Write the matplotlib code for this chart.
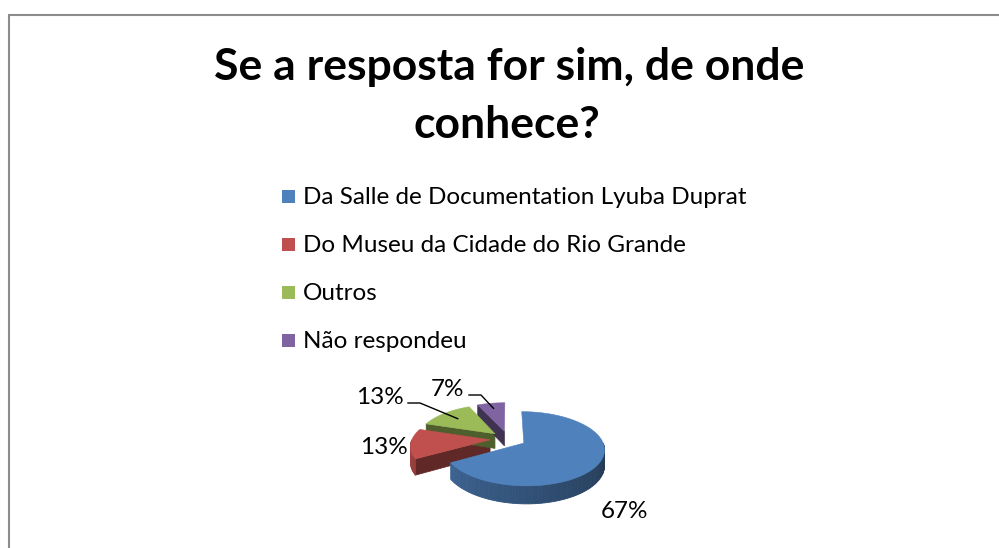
import numpy as np
import matplotlib
matplotlib.use("Agg")
import matplotlib.pyplot as plt
from matplotlib.patches import Polygon, Rectangle
from matplotlib.colors import to_rgb

# data
categories = ["Da Salle de Documentation Lyuba Duprat",
              "Do Museu da Cidade do Rio Grande",
              "Outros",
              "Não respondeu"]
counts = [10, 2, 2, 1]
title = "Se a resposta for sim, de onde\nconhece?"

colors = ["#4F81BD", "#C0504D", "#9BBB59", "#8064A2"]
FONT = "Lato"

W, H = 999, 548
fig = plt.figure(figsize=(W / 100, H / 100), dpi=100)
ax = fig.add_axes([0, 0, 1, 1])
ax.set_xlim(0, W)
ax.set_ylim(H, 0)
ax.axis("off")
renderer = fig.canvas.get_renderer()


def fit_size(text, width, weight="normal"):
    t = ax.text(0, 0, text, fontsize=10, family=FONT, weight=weight)
    w = t.get_window_extent(renderer).width
    t.remove()
    return 10 * width / w


# chart border (only top and left edges are visible in the crop)
ax.plot([8, W], [14.5, 14.5], color="#8C8C8C", lw=1.5, solid_capstyle="butt")
ax.plot([8.5, 8.5], [14, H], color="#8C8C8C", lw=1.5, solid_capstyle="butt")

# title
lines = title.split("\n")
tsize = fit_size(lines[0], 592, "bold")
ax.text(509, 80, lines[0], ha="center", va="baseline", fontsize=tsize,
        weight="bold", family=FONT)
ax.text(507, 138, lines[1], ha="center", va="baseline", fontsize=tsize,
        weight="bold", family=FONT)

# legend
lsize = fit_size(categories[0], 444)
for i, (cat, col) in enumerate(zip(categories, colors)):
    base = 204 + 48 * i
    ax.add_patch(Rectangle((282, base - 14), 13, 13, color=col, lw=0))
    ax.text(303, base, cat, va="baseline", ha="left", fontsize=lsize, family=FONT)

# 3D pie (simple perspective: front of the disc drawn larger than the back)
cx, cy = 508, 439
rx, ry = 78, 35
depth = 15
persp = 0.15
explode = 0.23

vals = np.array(counts, dtype=float)
fracs = vals / vals.sum()
edges = np.concatenate([[0], np.cumsum(fracs) * 360])


def shade(col, f):
    return tuple(min(1, c * f) for c in to_rgb(col))


def pt(off, phi, r=1.0, bottom=False):
    a = np.radians(phi)
    u = off[0] + r * np.sin(a)
    v = off[1] - r * np.cos(a)
    s = 1 / (1 - persp * v)
    return (cx + rx * u * s, cy + ry * v * s + (depth * s if bottom else 0))


slices = []
for i in range(len(vals)):
    p0, p1 = edges[i], edges[i + 1]
    pm = np.radians((p0 + p1) / 2)
    off = (explode * np.sin(pm), -explode * np.cos(pm))
    slices.append((p0, p1, off))

# radial faces
for (p0, p1, off), col in zip(slices, colors):
    for phi, vis in ((p0, np.sin(np.radians(p0)) < -1e-6),
                     (p1, np.sin(np.radians(p1)) > 1e-6)):
        if not vis:
            continue
        quad = [pt(off, phi, 0), pt(off, phi, 1),
                pt(off, phi, 1, True), pt(off, phi, 0, True)]
        ax.add_patch(Polygon(quad, closed=True, fc=shade(col, 0.5),
                             ec=shade(col, 0.5), lw=0.5))

# outer walls (front half only)
for (p0, p1, off), col in zip(slices, colors):
    lo, hi = max(p0, 90), min(p1, 270)
    if lo >= hi:
        continue
    steps = np.linspace(lo, hi, int((hi - lo) / 2) + 2)
    for s0, s1 in zip(steps[:-1], steps[1:]):
        f = 0.42 + 0.42 * ((s0 + s1) / 2 - 90) / 180
        c = shade(col, f)
        quad = [pt(off, s0), pt(off, s1), pt(off, s1, 1, True), pt(off, s0, 1, True)]
        ax.add_patch(Polygon(quad, closed=True, fc=c, ec=c, lw=0.6))

# top faces
for (p0, p1, off), col in zip(slices, colors):
    arc = [pt(off, p) for p in np.linspace(p0, p1, 80)]
    poly = [pt(off, p0, 0)] + arc
    ax.add_patch(Polygon(poly, closed=True, fc=col, ec=col, lw=0.4))

# data labels
label_xy = [(625, 511), (384, 447), (380, 397), (448, 389)]
for v, (x, y) in zip(fracs, label_xy):
    ax.text(x, y, f"{v * 100:.0f}%", ha="center", va="center",
            fontsize=lsize, family=FONT)

# leader lines for the small slices at the back
for i, (x, y), r in ((2, label_xy[2], 0.72), (3, label_xy[3], 0.8)):
    p0, p1, off = slices[i]
    ex, ey = pt(off, (p0 + p1) / 2, r)
    sx = x + 28 if i == 2 else x + 21
    ax.plot([sx, sx + 12, ex], [y + 6, y + 6, ey], color="black", lw=1.0)

fig.savefig("out.png", dpi=100)
